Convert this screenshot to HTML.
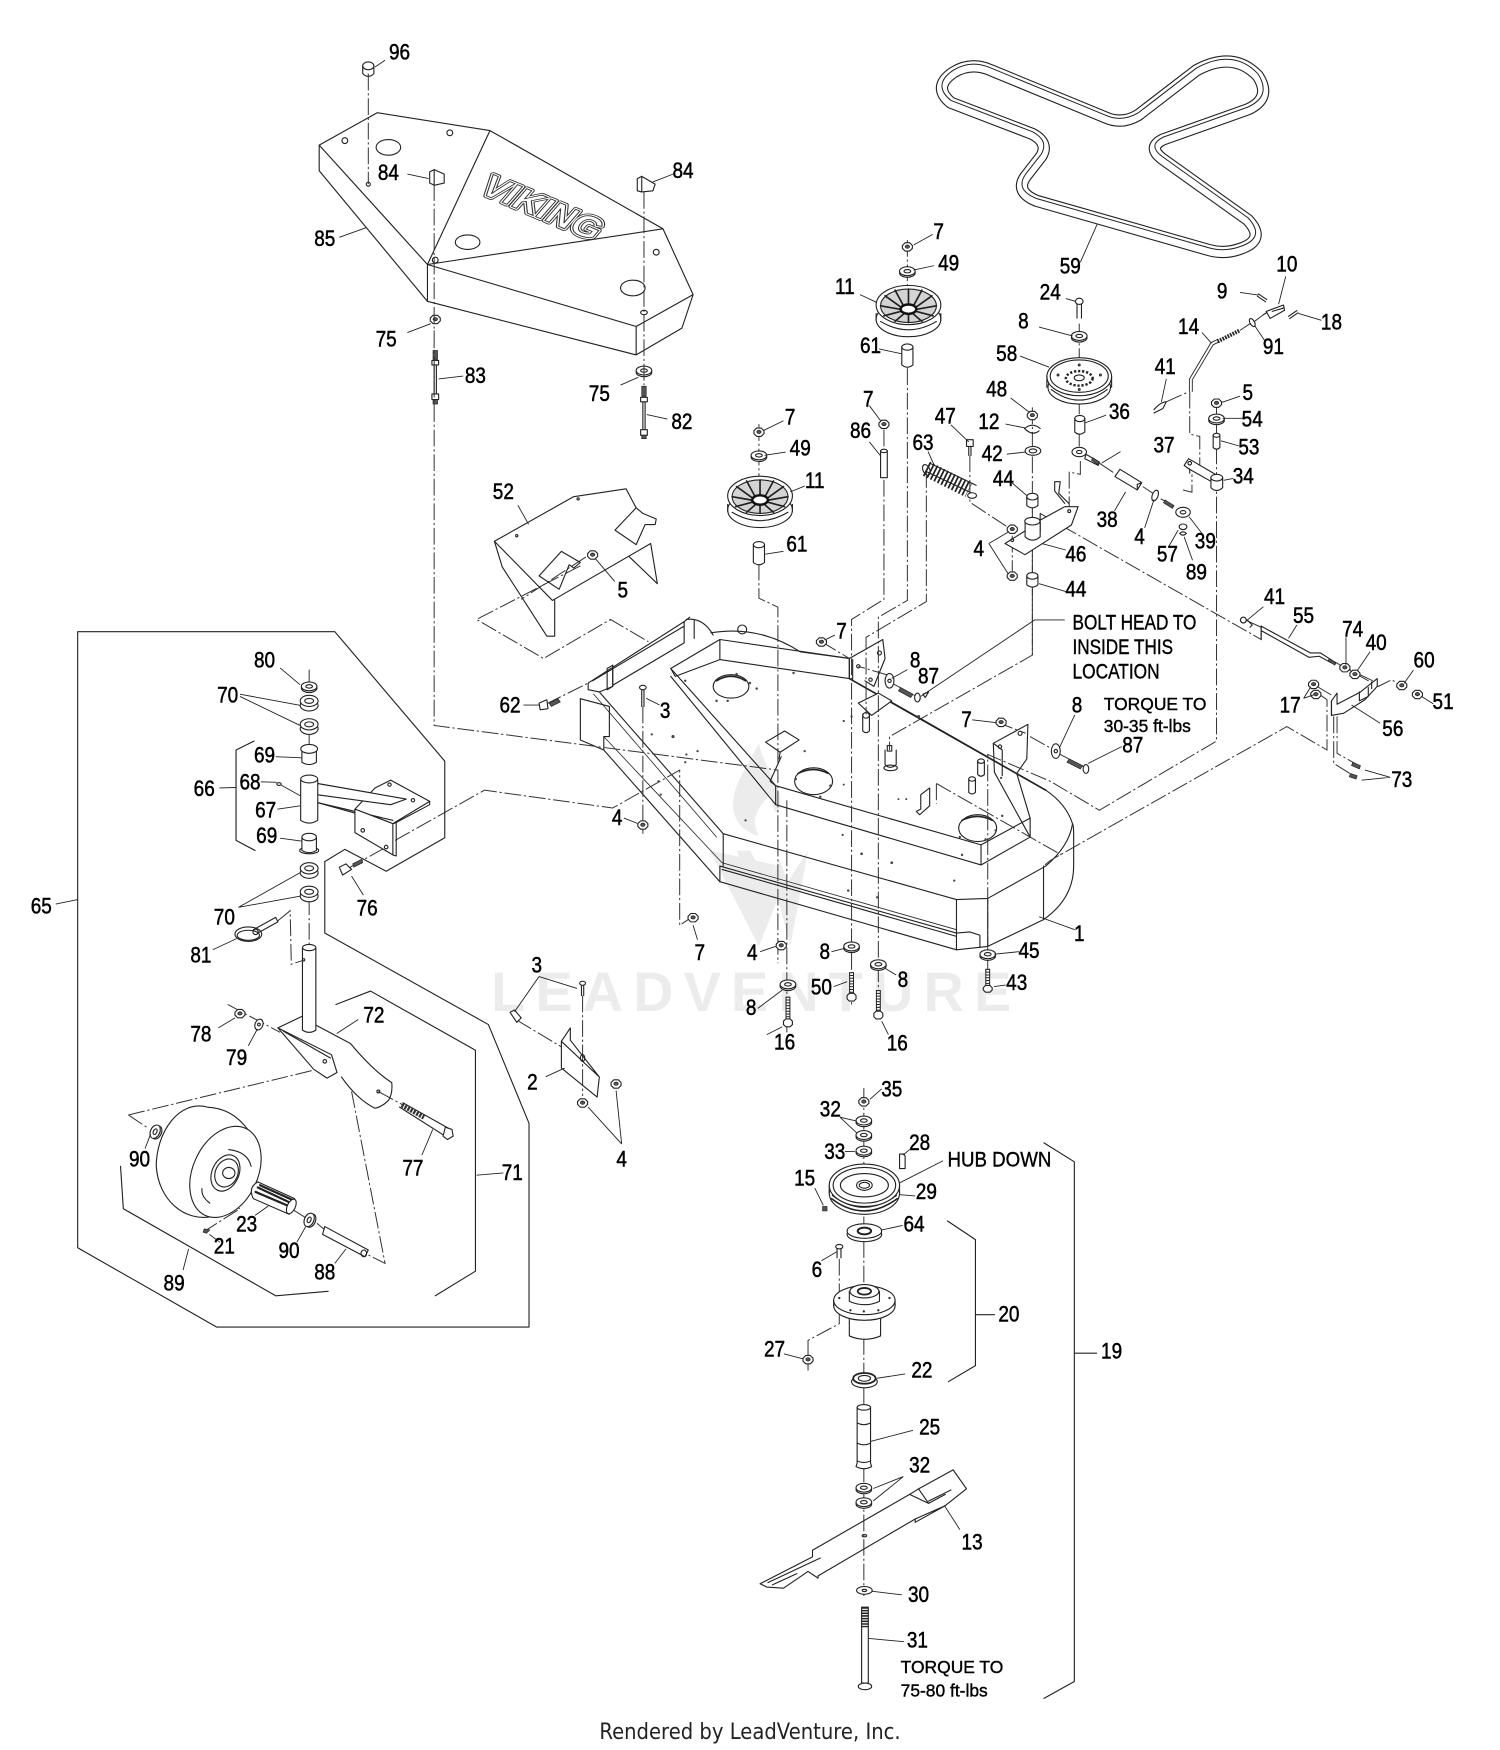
<!DOCTYPE html>
<html><head><meta charset="utf-8"><style>
html,body{margin:0;padding:0;background:#fff}
svg{display:block}
.s{fill:none;stroke:#222;stroke-width:1;stroke-linejoin:round;stroke-linecap:round}
.t{fill:none;stroke:#222;stroke-width:.8}
.d{fill:none;stroke:#333;stroke-width:.9;stroke-dasharray:15 2.5 2 2.5}
.w{fill:#fff;stroke:#222;stroke-width:1;stroke-linejoin:round}
.k{fill:#555;stroke:#222;stroke-width:.6}
.l{font-family:"Liberation Sans",sans-serif;font-size:20px;fill:#000;stroke:#000;stroke-width:.45;text-anchor:middle;dominant-baseline:central}
.l text{transform-box:fill-box;transform-origin:center;transform:scaleX(.85)}
.n{font-family:"Liberation Sans",sans-serif;fill:#000;stroke:#000;stroke-width:.35}
</style></head><body>
<svg xmlns="http://www.w3.org/2000/svg" width="1500" height="1750" viewBox="0 0 1344 1568">
<defs>
<g id="wa"><ellipse class="w" cx="0" cy="1.5" rx="7" ry="4"/><ellipse class="w" cx="0" cy="0" rx="7" ry="4"/><ellipse class="s" cx="0" cy="0" rx="3" ry="1.5"/></g>
<g id="nu"><path class="w" d="M-4.5,-1L-2,-3.5H2L4.5,-1V1.5L2,4H-2L-4.5,1.5Z"/><ellipse class="k" cx="0" cy="0" rx="2" ry="1.5"/></g>
<g id="cy"><path class="w" d="M-5,0V16Q0,20 5,16V0Z"/><ellipse class="w" cx="0" cy="0" rx="5" ry="2.8"/></g>
<g id="pu">
<ellipse class="w" cx="0" cy="8" rx="29" ry="15.7"/><path class="s" d="M-29,3V9M29,3V9M-25,10Q0,25 25,10"/>
<ellipse class="w" cx="0" cy="-4.7" rx="29" ry="17.6"/><ellipse cx="0" cy="-4" rx="25" ry="15" fill="#d4d4d4" stroke="#222"/>
<path class="s" style="stroke-width:1.5" d="M0,-6V-19M5,-5L12,-18M7,-3L21,-13M8,-1L25,-4M7,1L22,5M4,3L12,10M0,3V11M-4,3L-12,10M-7,1L-22,5M-8,-1L-25,-4M-7,-3L-21,-13M-5,-5L-12,-18"/>
<ellipse cx="0" cy="-1" rx="7" ry="4.2" fill="#fff" stroke="#111" stroke-width="2.2"/>
</g>
</defs>
<rect width="1344" height="1568" fill="#fff"/>

<!-- watermark -->
<g fill="#ececec">
<path d="M680,666C668,690 655,705 657,725C659,738 668,746 680,749C672,735 678,725 690,712C692,725 697,735 699,722C702,705 685,690 680,666Z"/>
<path d="M636,762L680,848L697,805L708,848L724,762L706,790L698,770L688,792L672,762L660,762L680,815L695,775Z"/>
<text x="440" y="906" font-family="Liberation Sans,sans-serif" font-size="50" font-weight="700" textLength="466" lengthAdjust="spacing">LEADVENTURE</text>
</g>

<!-- belt 59 -->
<g fill="none" stroke-linejoin="round">
<path stroke="#222" stroke-width="11" d="M888,63L990,105Q1005,112 1020,103L1072,63Q1105,45 1127,68Q1140,88 1118,98L1042,125Q1028,132 1041,142L1118,197Q1135,215 1111,223Q1097,228 1083,224L929,180Q909,172 919,158L933,140Q940,128 925,120L852,92Q835,78 854,65Q870,55 888,63Z"/>
<path stroke="#fff" stroke-width="9" d="M888,63L990,105Q1005,112 1020,103L1072,63Q1105,45 1127,68Q1140,88 1118,98L1042,125Q1028,132 1041,142L1118,197Q1135,215 1111,223Q1097,228 1083,224L929,180Q909,172 919,158L933,140Q940,128 925,120L852,92Q835,78 854,65Q870,55 888,63Z"/>
<path stroke="#222" stroke-width=".9" d="M888,63L990,105Q1005,112 1020,103L1072,63Q1105,45 1127,68Q1140,88 1118,98L1042,125Q1028,132 1041,142L1118,197Q1135,215 1111,223Q1097,228 1083,224L929,180Q909,172 919,158L933,140Q940,128 925,120L852,92Q835,78 854,65Q870,55 888,63Z" transform="translate(0,-2)"/>
</g>

<!-- cover 85 -->
<path class="s" d="M286,130L338,101L439,117L594,205L621,264L611,294L570,318L383,270L286,153ZM286,130L383,237L383,270M383,237L570,292.5L570,318M570,292.5L621,264M439,117L383,237L594,205"/>
<g class="s"><ellipse cx="348" cy="132" rx="11" ry="7"/><ellipse cx="419" cy="217" rx="11" ry="6.5"/><ellipse cx="567" cy="258" rx="11" ry="7"/><circle cx="309" cy="126" r="2.6"/><circle cx="403" cy="119" r="2.6"/><circle cx="390" cy="233" r="2.6"/><circle cx="588" cy="226" r="2.6"/><ellipse cx="577" cy="280" rx="3" ry="2"/><circle cx="330" cy="165" r="1.8"/></g>
<g font-family="Liberation Sans,sans-serif" font-weight="700" font-size="29" transform="translate(428,172) rotate(23) skewX(-18)">
<text textLength="112" lengthAdjust="spacingAndGlyphs" fill="#fff" stroke="#333" stroke-width="4.4" stroke-linejoin="round">VIKING</text>
<text textLength="112" lengthAdjust="spacingAndGlyphs" fill="#fff" stroke="#fff" stroke-width="2.8" stroke-linejoin="round">VIKING</text>
<text textLength="112" lengthAdjust="spacingAndGlyphs" fill="#fff" stroke="#333" stroke-width=".8">VIKING</text>
</g>

<!-- cap 96 & clips -->
<path class="w" d="M325,59V66Q330,71 335,66V59Z"/><ellipse class="w" cx="330" cy="59" rx="5" ry="3.5"/>
<path class="w" d="M385,154L389,152L398,156V164L389,166L385,164Z"/><path class="s" d="M389,152V166"/>
<path class="w" d="M571,160L575,158L587,165L585,171L575,172L571,171Z"/><path class="s" d="M575,158V172"/>
<use href="#nu" x="390" y="286"/><use href="#wa" x="577" y="332"/>
<path class="s" d="M389,322V358M391,322V358M576,355V388M578,355V388"/>
<path class="k" d="M388,314h4v8h-4zM575,346h4v9h-4z"/>
<path class="w" d="M387,323h6v4h-6zM387,353h6v5h-6zM574,356h6v4h-6zM574,385h6v5h-6z"/>
<path class="k" d="M388,358h4v4h-4zM575,390h4v3h-4z"/>

<!-- deck 1 -->
<g class="s">
<!-- outer -->
<path d="M520,626V663L541,672L645,790L857,851L885,848L935,824Q962,805 962,776V747Q962,740 961,738Q955,720 937,708L827,645L761,608"/>
<path d="M520,626L546,633V660L541,660V672"/>
<path d="M537,620L648,747L857,806L885,805L937,776Q958,758 961,738"/>
<path style="stroke-width:.7" d="M541,660L647,773L857,833M532,622L642,750"/>
<path d="M645,776L857,836M645,776V790M648,747V776M647,779L857,839"/>
<path d="M857,806V851M885,805V848M935,776V824"/>
<path d="M857,836L869,835L878,838V849"/>
<!-- back rail -->
<path d="M527,612L613,557V576L549,614V596L549,615L537,620L527,618ZM531,610L613,561"/><path d="M544,599L549,596V615L544,618Z"/>
<path d="M615,555Q630,553 639,569M622,556V572M613,557L618,553"/>
<path d="M637,567Q680,560 717,584L761,590"/><circle cx="665" cy="564" r="4"/>
<!-- platform -->
<path d="M601,599L645,573L761,590V608L645,591L605,606L601,599M645,573V591"/>
<path d="M601,599L695,704L879,757L923,733V750L879,775L695,721L601,606"/>
<path d="M695,704V721M879,757V775M695,704L690,700L700,678"/>
<path style="stroke-width:1.5" d="M761,608L937,708"/>
<!-- right bracket -->
<path d="M890,666L921,649L920,680L911,693L923,733M890,666L891,692L923,750"/><path d="M890,666L898,672V695"/>
<circle cx="914" cy="657" r="1.8"/><circle cx="896" cy="669" r="1.5"/>
<!-- left bracket 761 -->
<path d="M761,590L791,573L793,590L783,615L775,610M761,590V608M764,591V609" />
<circle cx="788" cy="585" r="1.8"/><circle cx="769" cy="597" r="1.5"/><circle cx="780" cy="609" r="1.5"/>
<path class="w" d="M769,630L787,621L799,628L781,641Z"/>
<!-- big holes -->
<ellipse cx="655" cy="615" rx="16" ry="10.5"/><ellipse cx="729" cy="700" rx="17" ry="12"/><ellipse cx="876" cy="742" rx="17" ry="12"/>
<path d="M642,610Q655,602 668,610M715,693Q729,686 742,693M862,735Q876,728 889,735" style="stroke-width:1.4"/>
<!-- tabs -->
<path d="M686,665L703,655L716,663L699,674ZM699,674L698,680"/>
<path d="M825,712L833,706V722L824,730L821,727L825,725Z"/>
<ellipse cx="879" cy="682" rx="3" ry="2"/><path d="M876,682V694Q879,697 882,694V682"/>
<ellipse cx="871" cy="698" rx="3" ry="2"/><path d="M868,698V710Q871,713 874,710V698"/>
<path d="M773,640V655Q776,658 779,655V640"/><ellipse cx="776" cy="641" rx="3" ry="2.5"/>
<path class="w" d="M793,672V685Q797,690 803,685V672"/><path d="M795,668h4v5h-4z"/><ellipse cx="798" cy="688" rx="6" ry="2.5"/>
</g>
<g fill="#444"><circle cx="614" cy="610" r="1.1"/><circle cx="642" cy="628" r="1.1"/><circle cx="652" cy="628" r="1.1"/><circle cx="672" cy="612" r="1.1"/><circle cx="678" cy="617" r="1.1"/><circle cx="660" cy="604" r="1.1"/><circle cx="711" cy="603" r="1.1"/><circle cx="584" cy="658" r="1"/><circle cx="603" cy="660" r="1.4"/><circle cx="615" cy="676" r="1"/><circle cx="625" cy="673" r="1"/><circle cx="614" cy="683" r="1"/><circle cx="590" cy="700" r="1"/><circle cx="592" cy="712" r="1"/><circle cx="668" cy="735" r="1"/><circle cx="713" cy="698" r="1.1"/><circle cx="744" cy="704" r="1.1"/><circle cx="735" cy="714" r="1.1"/><circle cx="721" cy="673" r="1"/><circle cx="756" cy="646" r="1"/><circle cx="763" cy="642" r="1"/><circle cx="756" cy="703" r=".9"/><circle cx="812" cy="716" r=".9"/><circle cx="805" cy="716" r=".9"/><circle cx="755" cy="748" r="1"/><circle cx="772" cy="765" r="1.2"/><circle cx="799" cy="773" r="1.2"/><circle cx="855" cy="789" r="1"/><circle cx="760" cy="798" r="1.1"/><circle cx="786" cy="804" r="1.1"/><circle cx="897" cy="697" r="1"/><circle cx="898" cy="731" r="1.1"/><circle cx="860" cy="750" r="1.1"/><circle cx="862" cy="766" r="1.1"/><circle cx="883" cy="752" r="1"/><circle cx="892" cy="744" r="1"/><circle cx="823" cy="642" r="1.4"/></g>

<!-- connector dashes -->
<path class="d" d="M330,66V165M389,165V650L697,690V863M577,172V345M389,296V314M389,362V368"/>
<path class="d" d="M680,505V536L697,544V684M705,717V925M792,430V537L763,555V900M813,330V538L787,553V905M830,422V539L776,571V640M925,365V587L797,660V672"/>
<path class="d" d="M813,215V300M680,380V440M792,385V404M967,290V374M967,389V400M1090,357V664L985,726L941,700L885,676V868M354,753L434,708L549,724L609,690V829L621,821"/>
<path class="d" d="M932,460L1130,573V562M869,408V450L907,475M907,480V512M1066,351V389L1075,391V423M1045,360L1065,351M968,413V425L958,423V436L958,458M1060,439L1068,441V425M1194,592L1235,615L1247,609L1256,615M1180,615L1195,624M1182,622L1189,627V672L1153,651L941,771L935,776M1117,556L1130,562"/>
<path class="d" d="M1198,642V675L1214,684M1195,642V684L1211,694M1230,610L1205,598M736,575L761,590M799,612L825,626M796,605L769,597M893,647L919,657M948,675L973,688M923,660L946,673M839,702V720M839,702L951,766"/>
<path class="d" d="M985,415L1000,425M1024,436L1033,442M1040,447L1044,449M1111,296L1120,290M1124,288L1132,282"/>
<path class="d" d="M925,587V452M520,507L427,555L487,590L547,555L581,575M525,499L467,537M489,631L527,612M576,633V747M463,914L503,938M522,892V982M204,900L251,925M115,999L293,956M115,999L133,1011M315,978L345,1132L327,1123M339,978L361,990M206,1053L226,1063M261,1083L277,1093M284,1096L291,1102M178,1064L215,1083L185,1102M249,825L260,816L261,864L273,860M277,600V616M277,655V671M277,805V848M312,778L346,759M774,975V1050M774,1090V1150M774,1199V1260M774,1313V1430M752,1128V1186L724,1201V1228"/>

<!-- pulleys -->
<use href="#pu" x="814" y="278"/><use href="#pu" x="681" y="449"/>
<g>
<ellipse class="w" cx="967" cy="347" rx="28" ry="15"/>
<ellipse class="w" cx="967" cy="337.5" rx="29" ry="17"/><ellipse class="s" cx="967" cy="337" rx="26" ry="14.5"/>
<ellipse cx="967" cy="339" rx="12" ry="6.5" fill="none" stroke="#222" stroke-width="2.2" stroke-dasharray="2 1.6"/><ellipse class="s" cx="967" cy="338.5" rx="4.5" ry="2.6"/>
<circle class="s" cx="948" cy="336" r=".8"/><circle class="s" cx="986" cy="336" r=".8"/><circle class="s" cx="967" cy="327" r=".8"/><circle class="s" cx="967" cy="349" r=".8"/>
<path class="s" d="M938,337V347M996,337V347M942,349Q967,368 992,349"/>
</g>
<!-- small tall items -->
<use href="#nu" x="813" y="221"/><use href="#wa" x="813" y="243"/><use href="#cy" x="813" y="311"/>
<use href="#nu" x="680" y="387"/><use href="#wa" x="680" y="408"/><use href="#cy" x="680" y="488"/>
<use href="#nu" x="792" y="380"/><path class="w" d="M789,404V428H795V404Z"/><ellipse class="w" cx="792" cy="404" rx="3" ry="1.5"/>
<use href="#wa" x="967" y="301"/>
<path class="s" d="M965,272V285M969,272V285"/><ellipse class="w" cx="967" cy="270" rx="3.4" ry="2.8"/>
<path class="w" d="M963,375V387Q967,391 972,387V375Z"/><ellipse class="w" cx="967.5" cy="375" rx="4.5" ry="2.8"/>
<ellipse class="w" cx="967" cy="405" rx="6.5" ry="4.2"/><ellipse class="s" cx="967" cy="405" rx="2.4" ry="1.4"/>
<path class="w" d="M973,407L985,414L984,417L972,411Z"/><path class="k" d="M979,410l6,4l-1,2.5l-6,-4z"/>
<path class="w" d="M999,427L1003.5,420.5L1023,432.5L1019,439Z"/><path class="s" d="M1019,439V434M1023,432.5L1019,434"/>
<ellipse class="w" cx="1035" cy="444" rx="2.6" ry="5" transform="rotate(20 1035 444)"/>
<path class="k" d="M1044,448l8,5l-1.5,2.5l-8,-5z"/>
<ellipse class="w" cx="1060" cy="459" rx="6.5" ry="4.5"/><ellipse class="s" cx="1060" cy="459" rx="2.5" ry="1.5"/>
<ellipse class="w" cx="1060" cy="472" rx="3.5" ry="2.5"/><path class="s" d="M1057,478Q1060,475 1063,478Q1060,481 1057,478"/>
<use href="#nu" x="925" y="372"/>
<path class="s" d="M918,384Q925,378 932,384M918,384Q925,391 931,386"/>
<ellipse class="w" cx="925.5" cy="404" rx="7" ry="4"/><ellipse class="s" cx="925.5" cy="404" rx="3.4" ry="1.8"/>
<g><path class="w" d="M920,445V453Q925,457 930,453V445Z"/><ellipse class="w" cx="925" cy="445" rx="5" ry="3"/></g>
<g><path class="w" d="M920,516V524Q925,528 930,524V516Z"/><ellipse class="w" cx="925" cy="516" rx="5" ry="3"/></g>
<path class="s" d="M868,400V408M870,400V408"/><path class="w" d="M866,394h6v6h-6z"/>
<path fill="none" stroke="#222" stroke-width="1" d="M829,422L871,442M833,415L875,435"/>
<line x1="830" y1="420" x2="868" y2="439" stroke="#222" stroke-width="14" stroke-dasharray="1.6 1.9"/>
<ellipse class="w" cx="871" cy="444" rx="4" ry="2.5"/><ellipse class="s" cx="830" cy="421" rx="3" ry="5" transform="rotate(-25 830 421)"/>
<!-- plate 46 -->
<path class="w" d="M900.5,487L918,476L932,466L954,454H966L960,470.4L918.4,497Z"/>
<path class="s" d="M945,431.6H950L948.6,442L957.6,451M945,431.6V440L954,451M932,460V476"/>
<path class="w" d="M918.5,468V481Q925,487 932,481V468Z"/><ellipse class="w" cx="925" cy="467" rx="6.8" ry="3.4"/>
<circle class="s" cx="958" cy="458" r="1.3"/><circle class="s" cx="907" cy="484" r="1.2"/>
<use href="#nu" x="907" y="474"/><use href="#nu" x="907" y="516"/>
<!-- 34, 53, 54, 5 -->
<use href="#nu" x="1090" y="361"/><use href="#wa" x="1090" y="375"/>
<path class="w" d="M1087,390V401Q1090,404 1093,401V390Z"/><ellipse class="w" cx="1090" cy="390" rx="3" ry="1.8"/>
<path class="w" d="M1061,417L1065,411L1090,425.6L1085.6,431.6L1065,420Z"/>
<path class="w" d="M1085,428V437Q1090,442 1095.5,437V428Z"/><ellipse class="w" cx="1090.2" cy="428" rx="5.3" ry="3"/><circle class="s" cx="1066" cy="415" r="1.6"/><path class="s" d="M1066,420V424"/>
<!-- rod 14 -->
<path fill="none" stroke="#222" stroke-width="3.4" d="M1092,305L1086,308L1067,340V351"/><path fill="none" stroke="#fff" stroke-width="1.8" d="M1092,305L1086,308L1067,340V351"/>
<path fill="none" stroke="#222" stroke-width="3.5" stroke-dasharray="1.5 1" d="M1091,306L1111,296"/>
<path class="w" d="M1134.5,279L1150,273.3L1151,278L1138,285.3Z"/><path class="s" d="M1132,282L1135,280M1140,279L1150,276"/>
<path class="s" d="M1127.6,263.4L1135,268.4M1126.6,265.4L1134,270.4"/>
<ellipse class="w" cx="1122" cy="289" rx="2" ry="4" transform="rotate(-30 1122 289)"/>
<path class="s" d="M1154.5,283.4L1162,278.3M1155.5,285.4L1163,280.3"/>
<path class="s" d="M1034,367Q1040,360 1045,360L1042,366L1034,370"/>
<!-- 55 etc. -->
<path class="s" d="M1114,553a2.6,2.6 0 1,0 .1,0M1118,556L1122,560L1120,562"/>
<path class="s" d="M1130,561L1174,585L1183,585L1194,592M1130,565L1173,589L1182,588L1193,594M1130,561V573"/>
<path class="k" d="M1191,590l6,4l-1,2l-6,-4z"/>
<use href="#nu" x="1205" y="598"/><use href="#nu" x="1214" y="604"/><use href="#nu" x="1256" y="614"/><use href="#nu" x="1270" y="622"/>
<use href="#nu" x="1177" y="613"/><use href="#nu" x="1179" y="622"/>
<path class="w" d="M1193,628L1198,621L1198,631L1219,620L1234,608V615L1223,627L1204,639L1193,641Z"/>
<path class="s" d="M1218,620V628L1226,624V616M1193,628V641M1229,611V617"/>
<path class="k" d="M1212,683l7,3l-1,3l-7,-3zM1210,693l6,2l-1,3l-6,-2z"/>
<!-- right-side bolts -->
<ellipse class="w" cx="797" cy="610" rx="4" ry="6.5"/><circle class="s" cx="797" cy="610" r="1.5"/>
<path class="k" d="M807,616l11,6l-2,3l-11,-6z"/><ellipse class="w" cx="822" cy="625" rx="2.5" ry="4"/>
<ellipse class="w" cx="946" cy="673" rx="4" ry="6.5"/><circle class="s" cx="946" cy="673" r="1.5"/>
<path class="k" d="M958,680l12,6l-2,3l-12,-6z"/><ellipse class="w" cx="973" cy="689" rx="2.5" ry="4"/>
<use href="#nu" x="736" y="575"/><use href="#nu" x="897" y="647"/>
<path class="s" d="M827,622l5,-2l-3,5z"/>
<!-- 62, 3, 4 -->
<path class="k" d="M492,630l8,-4l2,3l-8,4z"/><path class="w" d="M483,630L490,627L491,635L484,636Z"/>
<path class="s" d="M575,617V633M577,617V633"/><ellipse class="w" cx="576" cy="616" rx="3" ry="2"/><use href="#nu" x="576" y="739"/>
<use href="#nu" x="621" y="822"/><use href="#nu" x="700" y="847"/><use href="#wa" x="706" y="882"/><use href="#wa" x="763" y="848"/><use href="#wa" x="787" y="864"/><use href="#wa" x="885" y="855"/>
<path d="M706,893V914M763,871V892M787,887V907M885,868V885" fill="none" stroke="#222" stroke-width="4.4"/>
<path d="M706,894V914M763,872V892M787,888V907M885,869V885" fill="none" stroke="#fff" stroke-width="2.6" stroke-dasharray="1.6 .9"/>
<path class="w" d="M702,915L704,913H708L710,915V918L708,920H704L702,918ZM759,892L761,890H765L767,892V895L765,897H761L759,895ZM783,908L785,906H789L791,908V911L789,913H785L783,911ZM881,885L883,883H887L889,885V887L887,889H883L881,887Z"/>
<path class="s" d="M521,882V892M523,882V892"/><ellipse class="w" cx="522" cy="881" rx="2.6" ry="1.8"/>
<path class="w" d="M457,907L461,905L467,912L463,916Z"/>
<!-- part 2 -->
<path class="s" d="M511,921L503,933V957L535,983L537,965L511,932ZM511,921V932M503,933L537,965"/><ellipse class="s" cx="522" cy="948" rx="2" ry="3"/>
<use href="#nu" x="552" y="971"/><use href="#nu" x="522" y="988"/>
<!-- part 52 -->
<path class="s" d="M443,485L514,445L561,438L570,455M443,485L450,508L490,570L497,570V537M443,485L495,538L583,487M570,455L576,460L588,465L587,470L578,470L570,488L551,475L570,455M583,487L589,523L564,499M483,516L503,494L520,504L514,509L510,506L501,528Z"/>
<circle class="s" cx="463" cy="480" r="1"/><circle class="s" cx="518" cy="447" r="1"/>
<use href="#nu" x="531" y="497"/>

<!-- caster group -->
<g class="s">
<path d="M69.6,566H300L398.5,682V750.6L346,780.6L309,761L291,772V836L437.6,918L474,1006.5V1189H194L69.6,1118Z"/>
<path d="M301,900L332,888L426,941V1139L390,1161M108,1045L110.5,1083L247,1161L294,1157M227.6,664L211.5,672V753L228.5,762"/>
</g>
<g>
<path class="s" d="M284,702L364,716L350,719L284,712M284,719L352,738"/>
<path class="w" d="M318,725L336,706L350,699L385,718L352,738Z"/>
<path class="w" d="M284,702L364,716L350,721L284,712Z" /><path class="s" d="M284,719L352,735"/>
<path class="w" d="M318,725V746L352,766V738Z"/><path class="s" d="M352,738L355,737V767L352,766M355,737L385,721V718"/>
<circle class="s" cx="346" cy="759" r="1.6"/><circle class="s" cx="325" cy="744" r="1.6"/><circle class="s" cx="349" cy="703" r="1.5"/><circle class="s" cx="370" cy="717" r="1.5"/>
<path class="w" d="M269.4,699V735Q277,740 284.7,735V699Z"/><ellipse class="w" cx="277" cy="698" rx="7.6" ry="3.5"/>
<use href="#wa" x="277" y="615"/>
<g><ellipse class="w" cx="277" cy="632" rx="8" ry="5"/><ellipse class="w" cx="277" cy="628" rx="8" ry="5"/><ellipse class="s" cx="277" cy="628" rx="4" ry="2.2"/></g>
<g><ellipse class="w" cx="277" cy="653" rx="8" ry="5"/><ellipse class="w" cx="277" cy="649" rx="8" ry="5"/><ellipse class="s" cx="277" cy="649" rx="4" ry="2.2"/></g>
<path class="w" d="M270.5,672V683Q277,687 283.5,683V672Z"/><ellipse class="w" cx="277" cy="671" rx="7.5" ry="4"/>
<ellipse class="w" cx="277" cy="762" rx="8.5" ry="3"/><path class="w" d="M270.5,751V762Q277,766 283.5,762V751Z"/><ellipse class="w" cx="277" cy="750" rx="6.5" ry="3.4"/>
<g><ellipse class="w" cx="277" cy="782" rx="8" ry="5"/><ellipse class="w" cx="277" cy="778" rx="8" ry="5"/><ellipse class="s" cx="277" cy="778" rx="4" ry="2.2"/></g>
<g><ellipse class="w" cx="277" cy="803" rx="8" ry="5"/><ellipse class="w" cx="277" cy="799" rx="8" ry="5"/><ellipse class="s" cx="277" cy="799" rx="4" ry="2.2"/></g>
<ellipse class="s" cx="222.5" cy="837" rx="12" ry="6.5"/><ellipse class="s" cx="222.5" cy="838" rx="10" ry="4.5"/>
<path class="s" d="M227,833L247,822L249,826L231,836"/><circle class="s" cx="229" cy="835" r="2.4"/>
<path class="k" d="M316,774l8,-4l1,3l-8,4z"/><path class="w" d="M304,777L310,774L315,779L307,784Z"/>
<!-- fork -->
<path class="s" d="M249,921L272,910M282,918L314,935Q335,960 351,970Q352,980 348,986Q342,992 336,993Q320,985 306,965"/>
<path class="w" d="M249,921L297,945L302,961L293,966L281,958Z"/><path class="s" d="M254,924L296,948"/>
<path class="w" d="M271,850V923Q277,927 283,923V850Z"/><ellipse class="w" cx="277" cy="849" rx="6" ry="2.8"/>
<circle class="s" cx="272" cy="860" r="1"/><circle class="s" cx="291" cy="951" r="1.6"/><circle class="s" cx="339" cy="978" r="1.3"/>
<use href="#nu" x="215" y="908"/>
<ellipse class="w" cx="232" cy="918" rx="3.5" ry="5" transform="rotate(20 232 918)"/><circle class="s" cx="232" cy="918" r="1.2"/>
<!-- bolt 77 -->
<path class="s" d="M361,988L402,1011M358,992L399,1018"/><path d="M360,990L380,1001" fill="none" stroke="#333" stroke-width="4.4" stroke-dasharray="2 1"/><path class="w" d="M399,1010L405,1012L406,1018L401,1021L397,1018Z"/>
<!-- wheel -->
<path class="w" d="M186,992C160,985 140,1015 140,1045C142,1075 165,1095 190,1090L205,1060L222,1012Q208,993 186,992Z"/>
<ellipse class="w" cx="202" cy="1050" rx="29" ry="43" transform="rotate(25 202 1050)"/>
<ellipse class="s" cx="202" cy="1051" rx="12" ry="17" transform="rotate(25 202 1051)"/><ellipse class="s" cx="203" cy="1051" rx="10" ry="13" transform="rotate(25 203 1051)"/>
<ellipse class="w" cx="205" cy="1051" rx="5.5" ry="5"/>
<path class="s" d="M205,1030Q222,1032 225,1045M181,1065Q180,1072 188,1078"/>
<use href="#wa" x="0" y="0" transform="translate(139,1014) rotate(-65) scale(.9,1.05)"/>
<use href="#wa" x="0" y="0" transform="translate(277,1093) rotate(-65) scale(.9,1.05)"/>
<!-- 23 -->
<path class="w" d="M231,1059L264,1074L259,1088L227,1074Q222,1064 231,1059Z"/>
<path class="s" d="M229,1068L262,1082M233,1062L264,1076M231,1064L263,1079" style="stroke-width:2" stroke-dasharray="4 1"/>
<ellipse class="w" cx="261" cy="1081" rx="3.6" ry="7" transform="rotate(25 261 1081)"/>
<path class="w" d="M291,1099L330,1120L327,1126L289,1106Z"/><ellipse class="s" cx="326" cy="1123" rx="2.5" ry="3"/>
<path class="k" d="M183,1101l5,1l-3,3l-3,-1z"/>
</g>

<!-- spindle -->
<g>
<use href="#nu" x="774" y="987"/><use href="#wa" x="774" y="1004"/><use href="#wa" x="774" y="1017"/><use href="#wa" x="774" y="1031"/>
<path class="w" d="M806,1034h4l1,2v11h-5v-11z"/>
<ellipse class="w" cx="774.5" cy="1069" rx="31.5" ry="19"/><path class="s" d="M743,1062V1069M806,1062V1069"/><path class="s" style="stroke-width:1.4" d="M745,1074Q774,1096 804,1074M746,1071Q774,1092 803,1071"/>
<ellipse class="w" cx="774.5" cy="1062" rx="31.5" ry="19"/><ellipse class="s" cx="774.5" cy="1062" rx="28" ry="16"/><ellipse class="s" cx="774.5" cy="1062" rx="21.5" ry="10.5"/><ellipse class="s" cx="774.5" cy="1062" rx="7" ry="4.5"/><ellipse class="s" cx="774.5" cy="1062" rx="4.6" ry="2.6"/>
<path class="k" d="M737,1081l4,0l0,4l-4,0z"/>
<ellipse class="w" cx="774.5" cy="1106" rx="15.5" ry="6.5"/><ellipse class="w" cx="774.5" cy="1103" rx="15.5" ry="6.5"/><ellipse cx="774.5" cy="1103" rx="6" ry="3" fill="#fff" stroke="#222" stroke-width="1.8"/>
<path class="s" d="M750,1118V1127M753.5,1118V1127"/><ellipse class="w" cx="752" cy="1117" rx="3.2" ry="2"/>
<path class="w" d="M761,1176V1197Q775,1203 789,1197V1176Z"/>
<ellipse class="w" cx="774.5" cy="1170" rx="27.5" ry="13"/><path class="s" d="M747,1165V1170M802,1165V1170"/>
<ellipse class="w" cx="774.5" cy="1165" rx="27.5" ry="13"/>
<path class="w" d="M761,1157V1166Q775,1172 788,1166V1157Z"/><ellipse class="w" cx="774.5" cy="1157" rx="13" ry="6"/><ellipse cx="774.5" cy="1157" rx="6" ry="3" fill="#fff" stroke="#222" stroke-width="1.6"/>
<g fill="#222"><circle cx="752" cy="1163" r="1"/><circle cx="797" cy="1163" r="1"/><circle cx="762" cy="1174" r="1"/><circle cx="774" cy="1175" r="1"/><circle cx="787" cy="1174" r="1"/></g>
<use href="#nu" x="724" y="1218"/>
<ellipse class="w" cx="774.5" cy="1238" rx="11.5" ry="5.5"/><ellipse cx="774.5" cy="1235" rx="10" ry="4.8" fill="#fff" stroke="#222" stroke-width="1.6"/><ellipse class="w" cx="774.5" cy="1235" rx="5.5" ry="2.6"/>
<path class="w" d="M768,1261V1311L767,1314Q774,1318 781,1314L780,1311V1261Z"/><ellipse class="w" cx="774" cy="1261" rx="6" ry="2.5"/><path class="s" d="M768,1275Q774,1278 780,1275M768,1293Q774,1296 780,1293M768,1309Q774,1312 780,1309"/>
<use href="#wa" x="774" y="1333"/><use href="#wa" x="774" y="1346"/>
<path class="s" d="M681,1419L728,1395V1389L815,1339L832,1347L823,1334L854,1317L866,1334L847,1349L820,1364V1361L733,1412V1414L724,1408L702,1423L687,1422ZM815,1339L823,1334M832,1347L847,1339M820,1361L847,1349M728,1395L681,1419M688,1418L735,1396M692,1420L714,1410M832,1345L852,1335"/>
<ellipse class="s" cx="774.5" cy="1376" rx="2" ry="1"/>
<ellipse class="w" cx="774.5" cy="1425" rx="7" ry="3.5"/><ellipse class="s" cx="774.5" cy="1425" rx="2" ry="1"/>
<path class="w" d="M772,1440H778V1508H772Z"/><path d="M775,1440V1458" fill="none" stroke="#222" stroke-width="6" stroke-dasharray="1.4 1"/>
<ellipse class="w" cx="775" cy="1511" rx="6" ry="3"/>
</g>
<path class="s" d="M849,1094L874,1110.7V1223.6L849.7,1238M874,1178H891M935.4,1024L962.6,1041V1506.6L935.4,1521.7M962.6,1212.5H982.6"/>

<!-- leaders -->
<path class="t" d="M345,54L336,60M365,156L384,160M603,156L585,163M304,212.6L328,204M365,298L386,290M415,337L393,339.5M556,345L572,338M598,375.5L579.5,371.4M464,452.7L473.6,469.8M550.8,521L533.6,500.7
M835.7,210L818.6,219.5M837,238L818.6,242M770.6,264L785.6,271M787.7,312.7L808,317M779,363.5L789,377M779,396L788.6,408M702,377L684,385.8M704,405L685,408M721,435.5L708,440.7M702,494L685.7,496.6
M983,201L968,235M955,267.5L963.5,270M931,293L961,301M914,319L940,329M991,372L972,379M1004,404.7L987,415M1008.5,440.7L998.6,457.8M1034,447.5L1025.6,473M1065.5,463L1077,478M1055.6,475L1047,490M1061,481L1068.5,502
M852,380.6L868,396M831.5,404.6L837,416.7M905.6,356.6L922.7,369.7M901,380L918.5,383.4M902,407L918.5,405M907,432.8L920,444M886,487L903.5,476.7M886,487L903.5,514.4M933.5,487L955,492.8M931,523L955,530
M1111,262L1127.6,264.4M1152,247.6L1145.6,272.6M1184,287L1163.4,280.8M1133,305L1124,291.5M1077,298L1085.6,307.6M1045,339.5L1040.6,360M1111,355L1094,360.8M1113.5,374.8L1095.5,374.8M1110,399.5L1094,395M1105,428.7L1096.4,430.4
M954,555.5H927L825,624M813,600L799,607.8M748,569L739,573.4M469,631.7L483,631.7M591,631.7L579,625.7M559,733L571,737.7M625,842L621,829M681,852.7L695,848M679,903.5L701,887M687,927L701,920M745,852.7L757,849.7M747,884L759,879.6M803,873.6L793,867.6M796,927L790,915M913,852.7L891,855M901,882.6L890.5,884M963,833L931,821.4M963,640.6L949,670.5M1005,669L975,684M871,645L893,647.5M483,875L517,885.6M483,875L461,906.5M489,964.7L506,957M557,1025L552,977M557,1025L527,992
M1132,543.6L1117,556M1162,560L1154.5,572M1206,571V596M1227.6,584L1216,601M1211,631.7L1236.6,648M1168,625.7L1174.5,615.3M1168,625.7L1176.9,622.7M1245.6,696.5L1223,690M1245.6,696.5L1220,699M1266.5,600.3L1258,612.3M1284.4,630.8L1274,624.2
M251,598.5L268.8,613.5M215,622L268.8,632M215,624L268.8,650M247,678L270,679M233.6,700.5L248,701M252,703.5L269,713M248.5,725L269,722M251,751L270,753.6M213.6,813L268.8,782M213.6,813L268.8,803M315,785L325.6,802M190.6,851L212,841M195.6,921L210.6,912M222.5,937L230.6,922M301.7,926L321,913.5M378,1035L387.7,1012M427,1053L451,1051M130,1029L135,1016M228.5,1089L240.4,1080.6M197,1113L187.6,1106M266,1113L274,1099M300,1132L310,1119M164,1138L169,1119M196.5,706L211.5,705.6M50,810L69.6,806
M790,975.6L779.5,985M752.6,1001L767.5,1004.5M752.6,1001L767.5,1015M757,1031.7L766,1031.7M815,1030L809,1035M845,1040L806.4,1059.7M820,1071.6L806.4,1070.4M730,1064.5L737.7,1080M808.8,1098L790,1102M736,1129.6L749.6,1121.7M702.4,1213L719.8,1217.6M811,1231L785.5,1235M818,1281.6L780,1291.5M809.4,1323L782.5,1333.7M809.4,1323L782.5,1344.8M860,1370.5L846,1348.7M808,1429L781,1425.7M810,1471L778.6,1468"/>
<ellipse class="s" cx="250" cy="702.5" rx="2" ry="1.2"/>

<!-- labels -->
<g class="l">
<text x="358" y="47">96</text><text x="348" y="155">84</text><text x="612" y="153">84</text><text x="291" y="214">85</text><text x="346" y="304">75</text><text x="426" y="337">83</text><text x="537" y="353">75</text><text x="611" y="378">82</text><text x="451" y="441">52</text><text x="558" y="529">5</text>
<text x="841" y="208">7</text><text x="850" y="236">49</text><text x="757" y="257">11</text><text x="959" y="239">59</text><text x="941" y="262">24</text><text x="917" y="288">8</text><text x="1153" y="237">10</text><text x="1095" y="261">9</text><text x="1193" y="289">18</text><text x="1141" y="311">91</text><text x="1065" y="293">14</text><text x="1044" y="329">41</text><text x="780" y="310">61</text><text x="902" y="317">58</text>
<text x="778" y="358">7</text><text x="708" y="374">7</text><text x="717" y="402">49</text><text x="730" y="431">11</text><text x="714" y="488">61</text><text x="771" y="386">86</text><text x="847" y="373">47</text><text x="827" y="397">63</text><text x="893" y="349">48</text><text x="886" y="378">12</text><text x="889" y="407">42</text><text x="899" y="429">44</text>
<text x="1003" y="369">36</text><text x="1043" y="399">37</text><text x="1118" y="352">5</text><text x="1122" y="376">54</text><text x="1119" y="401">53</text><text x="1114" y="427">34</text><text x="992" y="466">38</text><text x="1021" y="481">4</text><text x="1080" y="485">39</text><text x="1046" y="497">57</text><text x="1072" y="513">89</text><text x="877" y="492">4</text><text x="964" y="497">46</text><text x="964" y="528">44</text>
<text x="965" y="632">8</text><text x="1015" y="668">87</text><text x="1142" y="535">41</text><text x="1168" y="552">55</text><text x="1212" y="564">74</text><text x="1233" y="576">40</text><text x="1276" y="592">60</text><text x="1293" y="629">51</text><text x="1156" y="632">17</text><text x="1248" y="653">56</text><text x="1256" y="699">73</text>
<text x="754" y="566">7</text><text x="820" y="592">8</text><text x="832" y="606">87</text><text x="457" y="632">62</text><text x="596" y="637">3</text><text x="866" y="645">7</text><text x="553" y="733">4</text><text x="967" y="837">1</text><text x="627" y="854">7</text><text x="674" y="854">4</text><text x="739" y="853">8</text><text x="809" y="878">8</text><text x="922" y="852">45</text><text x="911" y="881">43</text><text x="736" y="885">50</text><text x="703" y="934">16</text><text x="673" y="903">8</text><text x="804" y="935">16</text><text x="481" y="865">3</text><text x="477" y="970">2</text><text x="557" y="1039">4</text>
<text x="237" y="592">80</text><text x="204" y="623">70</text><text x="237" y="677">69</text><text x="224" y="701">68</text><text x="183" y="707">66</text><text x="238" y="726">67</text><text x="239" y="749">69</text><text x="201" y="822">70</text><text x="329" y="814">76</text><text x="180" y="856">81</text><text x="37" y="812">65</text><text x="180" y="927">78</text><text x="212" y="948">79</text><text x="335" y="910">72</text><text x="370" y="1047">77</text><text x="459" y="1051">71</text><text x="125" y="1039">90</text><text x="221" y="1097">23</text><text x="201" y="1117">21</text><text x="259" y="1121">90</text><text x="291" y="1140">88</text><text x="156" y="1150">89</text>
<text x="799" y="976">35</text><text x="744" y="994">32</text><text x="748" y="1032">33</text><text x="824" y="1024">28</text><text x="721" y="1056">15</text><text x="830" y="1068">29</text><text x="819" y="1097">64</text><text x="732" y="1138">6</text><text x="904" y="1178">20</text><text x="694" y="1209">27</text><text x="826" y="1228">22</text><text x="996" y="1211">19</text><text x="833" y="1279">25</text><text x="824" y="1313">32</text><text x="871" y="1382">13</text><text x="823" y="1429">30</text><text x="822" y="1470">31</text>
</g>
<g class="n" font-size="19">
<text x="961" y="564" textLength="111" lengthAdjust="spacingAndGlyphs">BOLT HEAD TO</text>
<text x="961" y="586" textLength="90" lengthAdjust="spacingAndGlyphs">INSIDE THIS</text>
<text x="961" y="608" textLength="78" lengthAdjust="spacingAndGlyphs">LOCATION</text>
<text x="849" y="1045" textLength="93" lengthAdjust="spacingAndGlyphs">HUB DOWN</text>
</g>
<g class="n" font-size="16">
<text x="989" y="636" textLength="92" lengthAdjust="spacingAndGlyphs">TORQUE TO</text>
<text x="989" y="656" textLength="78" lengthAdjust="spacingAndGlyphs">30-35 ft-lbs</text>
<text x="807" y="1499" textLength="92" lengthAdjust="spacingAndGlyphs">TORQUE TO</text>
<text x="807" y="1520" textLength="78" lengthAdjust="spacingAndGlyphs">75-80 ft-lbs</text>
</g>
<text x="537" y="1558" font-family="DejaVu Sans,sans-serif" font-size="20" fill="#222" textLength="270" lengthAdjust="spacingAndGlyphs">Rendered by LeadVenture, Inc.</text>
</svg>
</body></html>
